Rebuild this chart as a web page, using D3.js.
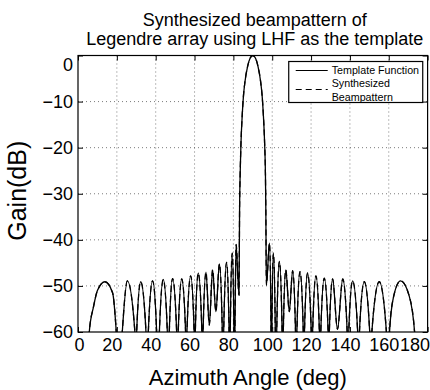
<!DOCTYPE html>
<html>
<head>
<meta charset="utf-8">
<script src="https://cdn.jsdelivr.net/npm/d3@7"></script>
<style>
  body { margin: 0; background: #fff; }
  text { font-family: "Liberation Sans", Arial, Helvetica, sans-serif; fill: #000; }
</style>
</head>
<body>
<svg id="chart" width="430" height="390"></svg>
<script>
// beampattern: azimuth (deg) and gain (dB)
// points below -60 are the nulls, they get clipped by the axes box
var azimuth = [
  4.8, 5.8, 8.0, 10.0, 13.9, 17.8, 19.7, 21.2,
  22.8, 25.4, 29.3, 29.75,
  30.2, 32.3, 35.0, 35.6,
  36.2, 38.4, 40.5, 41.2,
  41.9, 43.9, 46.0, 46.5,
  47.0, 48.7, 50.8, 51.2,
  51.6, 53.4, 55.4, 55.7,
  56.1, 58.0, 59.8, 60.1,
  60.4, 61.9, 63.8, 64.1,
  64.4, 65.9, 67.6,
  69.3, 71.0,
  72.8, 74.3, 74.6,
  75.0, 76.5, 77.8, 78.1,
  78.4, 79.4, 80.3, 80.5,
  80.8, 81.4, 82.9,
  83.2, 83.5, 83.9, 84.6, 85.2, 85.9, 87.3, 88.6, 90.0,
  91.4, 92.7, 94.1, 94.8, 95.4, 96.1, 96.5, 96.7, 97.0,
  98.6, 99.4, 99.6,
  99.8, 100.6, 101.6, 101.9,
  102.3, 103.7, 105.1, 105.4,
  105.7, 107.0, 108.8,
  110.5, 112.0, 112.3,
  112.7, 114.3, 116.0, 116.3,
  116.6, 118.2, 120.1, 120.4,
  120.8, 122.5, 124.3, 124.6,
  125.0, 126.8, 128.8, 129.1,
  129.4, 131.1, 133.6,
  136.3, 138.6, 139.0,
  139.4, 141.4, 144.0, 144.4,
  144.9, 147.4, 150.2, 150.7,
  151.3, 155.1, 158.8, 159.4,
  160.4, 162.4, 166.1, 170.4, 173.3, 174.5
];
var gainDb = [
  -72, -60, -54.5, -51, -49.1, -51.5, -60, -72,
  -60, -48.9, -60, -72,
  -60, -49.1, -60, -72,
  -60, -48.9, -60, -72,
  -60, -48.6, -60, -72,
  -60, -48.4, -60, -72,
  -60, -48.5, -60, -72,
  -60, -47.8, -60, -72,
  -60, -47.2, -60, -72,
  -60, -47.0, -58.5,
  -46.5, -55.6,
  -45.2, -60, -72,
  -60, -44.9, -60, -72,
  -60, -42.9, -60, -72,
  -60, -41.0, -52,
  -33, -25.6, -19.2, -12.6, -8.7, -5.9, -2.4, -0.6, 0,
  -0.6, -2.4, -5.9, -8.7, -12.6, -19.2, -25.6, -33, -49.8,
  -40.7, -60, -72,
  -60, -42.9, -60, -72,
  -60, -44.7, -60, -72,
  -60, -46.5, -55.6,
  -46.7, -60, -72,
  -60, -46.9, -60, -72,
  -60, -47.2, -60, -72,
  -60, -47.8, -60, -72,
  -60, -48.3, -60, -72,
  -60, -48.5, -59.4,
  -48.5, -60, -72,
  -60, -48.9, -60, -72,
  -60, -49.1, -60, -72,
  -60, -49.1, -60, -72,
  -60, -52.5, -48.9, -52, -60, -72
];

var xTicks = [0, 20, 40, 60, 80, 100, 120, 140, 160, 180];
var yTicks = [-60, -50, -40, -30, -20, -10, 0];
var titleLines = ["Synthesized beampattern of", "Legendre array using LHF as the template"];
var legendLabels = ["Template Function", "Synthesized", "Beampattern"];

var margin = {top: 55.5, right: 2.4, bottom: 58, left: 78},
    width = 430 - margin.left - margin.right,
    height = 390 - margin.top - margin.bottom;

var svg = d3.select("#chart")
  .append("g")
    .attr("transform", "translate(" + margin.left + "," + margin.top + ")");

var x = d3.scaleLinear().domain([0, 180]).range([0, width]);
var y = d3.scaleLinear().domain([-60, 0]).range([height, 0]);

// dotted grid
svg.append("g").selectAll("line")
  .data(xTicks.slice(1, -1))
  .enter().append("line")
    .attr("x1", function(d) { return x(d); })
    .attr("x2", function(d) { return x(d); })
    .attr("y1", 0).attr("y2", height)
    .attr("stroke", "#444").attr("stroke-width", 0.7)
    .attr("stroke-dasharray", "1,3");
svg.append("g").selectAll("line")
  .data(yTicks.slice(1, -1))
  .enter().append("line")
    .attr("y1", function(d) { return y(d); })
    .attr("y2", function(d) { return y(d); })
    .attr("x1", 0).attr("x2", width)
    .attr("stroke", "#444").attr("stroke-width", 0.7)
    .attr("stroke-dasharray", "1,3");

// curves
svg.append("clipPath").attr("id", "clip")
  .append("rect").attr("width", width).attr("height", height);

var pts = d3.zip(azimuth, gainDb);
var line = d3.line()
  .x(function(d) { return x(d[0]); })
  .y(function(d) { return y(d[1]); })
  .curve(d3.curveMonotoneX);

svg.append("path")
  .datum(pts)
  .attr("clip-path", "url(#clip)")
  .attr("fill", "none")
  .attr("stroke", "#000")
  .attr("stroke-width", 1.3)
  .attr("d", line);
svg.append("path")
  .datum(pts)
  .attr("clip-path", "url(#clip)")
  .attr("fill", "none")
  .attr("stroke", "#000")
  .attr("stroke-width", 1.3)
  .attr("stroke-dasharray", "6,4")
  .attr("d", line);

// axes, ticks inside like matlab
var xAxis = svg.append("g")
  .attr("transform", "translate(0," + height + ")")
  .call(d3.axisBottom(x).tickValues(xTicks).tickSize(-5).tickPadding(6).tickSizeOuter(0));
xAxis.selectAll("text")
  .attr("font-size", "18px")
  .attr("dx", function(d) { return d == 0 ? 1 : (d == 180 ? -13 : -5); });

var yAxis = svg.append("g")
  .call(d3.axisLeft(y).tickValues(yTicks).tickSize(-5).tickPadding(5).tickSizeOuter(0)
    .tickFormat(function(d) { return d < 0 ? "\u2212" + Math.abs(d) : d; }));
yAxis.selectAll("text")
  .attr("font-size", "18px")
  .attr("dy", function(d) { return d == 0 ? "0.85em" : "0.32em"; });

svg.append("g")
  .call(d3.axisTop(x).tickValues(xTicks).tickSize(-5).tickFormat("").tickSizeOuter(0));
svg.append("g")
  .attr("transform", "translate(" + width + ",0)")
  .call(d3.axisRight(y).tickValues(yTicks).tickSize(-5).tickFormat("").tickSizeOuter(0));

svg.selectAll(".domain").attr("stroke", "none");
svg.selectAll(".tick line").attr("stroke", "#000");
svg.append("rect")
  .attr("width", width).attr("height", height)
  .attr("fill", "none").attr("stroke", "#000").attr("stroke-width", 1.2);

// title
svg.append("text")
  .attr("text-anchor", "middle")
  .attr("font-size", "18px")
  .selectAll("tspan")
  .data(titleLines)
  .enter().append("tspan")
    .attr("x", width / 2 + 2)
    .attr("y", function(d, i) { return -30 + i * 19; })
    .text(function(d) { return d; });

// axis labels
svg.append("text")
  .attr("x", width / 2 - 5)
  .attr("y", height + 53)
  .attr("text-anchor", "middle")
  .attr("font-size", "22px")
  .text("Azimuth Angle (deg)");
svg.append("text")
  .attr("transform", "translate(-52," + (height / 2 - 3) + ") rotate(-90)")
  .attr("text-anchor", "middle")
  .attr("font-size", "25px")
  .text("Gain(dB)");

// legend
var lg = svg.append("g").attr("transform", "translate(" + (x(108.5)) + ",6)");
lg.append("rect")
  .attr("width", 134).attr("height", 41)
  .attr("fill", "#fff").attr("stroke", "#000").attr("stroke-width", 1.2);
lg.append("line").attr("x1", 7).attr("x2", 39).attr("y1", 9).attr("y2", 9)
  .attr("stroke", "#000").attr("stroke-width", 1);
lg.append("line").attr("x1", 7).attr("x2", 39).attr("y1", 28).attr("y2", 28)
  .attr("stroke", "#000").attr("stroke-width", 1).attr("stroke-dasharray", "6,4");
lg.selectAll(".lbl")
  .data(legendLabels)
  .enter().append("text")
    .attr("class", "lbl")
    .attr("x", 43)
    .attr("y", function(d, i) { return 9 + [0, 12.5, 26.5][i]; })
    .attr("dy", "0.35em")
    .attr("font-size", "10.7px")
    .text(function(d) { return d; });
</script>
</body>
</html>
